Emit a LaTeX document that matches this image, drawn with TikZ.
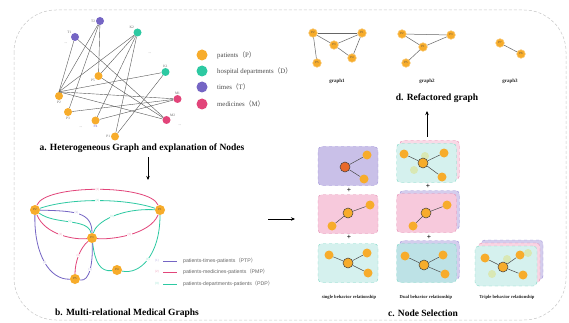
\documentclass[tikz,border=0pt]{standalone}
\usepackage{fontspec}
\setmainfont{Liberation Serif}
\setsansfont{Liberation Sans}
\newfontfamily\cjk{Noto Sans CJK SC}
\usetikzlibrary{positioning, calc, arrows.meta}
\definecolor{patorange}{HTML}{F7AC2B}
\definecolor{deptteal}{HTML}{2DC9A2}
\definecolor{timepurple}{HTML}{7565C4}
\definecolor{medpink}{HTML}{E2457A}
\definecolor{selred}{HTML}{E8692A}
\definecolor{lavfill}{HTML}{C9C0E8}
\definecolor{lavdraw}{HTML}{9E90D8}
\definecolor{rosefill}{HTML}{F7C9DC}
\definecolor{rosedraw}{HTML}{E58BB2}
\definecolor{mintfill}{HTML}{D5F1EE}
\definecolor{mintdraw}{HTML}{7FD8C6}
\definecolor{bluefill}{HTML}{BDE2E6}
\definecolor{faintgreen}{HTML}{D9E8B4}
\newcommand{\fwl}{{\cjk （}}
\newcommand{\fwr}{{\cjk ）}}

\begin{document}
\begin{tikzpicture}[
    x=1pt, y=-1pt,
    frame/.style={draw=black!22, dash pattern=on 3pt off 2pt, rounded corners=42pt, line width=0.5pt},
    hnode/.style={circle, inner sep=0pt, minimum size=8pt},
    pat/.style={hnode, fill=patorange},
    dep/.style={hnode, fill=deptteal},
    tim/.style={hnode, fill=timepurple},
    med/.style={hnode, fill=medpink},
    nlbl/.style={font=\fontsize{3.5}{4}\selectfont, text=black!60, inner sep=0.5pt},
    hlink/.style={draw=black!65, line width=0.4pt},
    keydot/.style={circle, inner sep=0pt, minimum size=11pt},
    keytext/.style={anchor=west, font=\fontsize{6.8}{8}\selectfont, text=black!70, inner sep=0pt},
    title/.style={font=\fontsize{9.5}{11}\selectfont\bfseries},
    sub/.style={font=\fontsize{4.6}{5}\selectfont\bfseries, text=black!85},
    flow/.style={-{Stealth[length=4pt, width=3.5pt]}, line width=0.9pt},
    mnode/.style={circle, fill=patorange, inner sep=0pt, minimum size=10pt, font=\fontsize{3}{3}\selectfont, text=black!70},
    rel/.style={line width=0.8pt},
    rlbl/.style={fill=white, inner sep=0.3pt, font=\fontsize{3}{3}\sffamily\selectfont},
    reltext/.style={anchor=west, font=\fontsize{5.2}{6}\sffamily\selectfont, text=black!60, inner sep=0pt},
    box/.style={rectangle, rounded corners=4pt, dashed, line width=0.4pt, minimum width=60pt, minimum height=39pt},
    lavbox/.style={box, fill=lavfill, draw=lavdraw},
    rosebox/.style={box, fill=rosefill, draw=rosedraw},
    mintbox/.style={box, fill=mintfill, draw=mintdraw},
    bluebox/.style={box, fill=bluefill, draw=mintdraw},
    onode/.style={circle, fill=patorange, inner sep=0pt, minimum size=9pt},
    cnode/.style={circle, fill=patorange, draw=black!75, line width=0.5pt, inner sep=0pt, minimum size=10pt},
    fnode/.style={circle, fill=faintgreen, inner sep=0pt, minimum size=8pt},
    clink/.style={draw=black!70, line width=0.5pt},
    plus/.style={font=\fontsize{7.5}{7.5}\selectfont\bfseries, inner sep=0pt},
    gnode/.style={circle, fill=patorange, draw=patorange!70!white, line width=0.6pt, inner sep=0pt, minimum size=8.5pt, font=\fontsize{3}{3}\selectfont, text=black!70},
    glink/.style={draw=black!60, line width=0.5pt}
]
    \fill[white] (0,0) rectangle (569,323);
    \useasboundingbox (0,0) rectangle (569,323);
    \draw[frame] (14,10) rectangle (566,320);

    % a. Heterogeneous graph
    \node[tim, label={[nlbl]above left:T1}] (t1) at (75,37) {};
    \node[tim, label={[nlbl]left:T2}] (t2) at (100,21) {};
    \node[dep, label={[nlbl]above left:K2}] (k2) at (137.5,32.5) {};
    \node[dep, label={[nlbl]above:K1}] (k1) at (165.5,72) {};
    \node[med, label={[nlbl]above:M1}] (m1) at (177.5,99) {};
    \node[med, label={[nlbl]above right:M2}] (m2) at (166.5,120) {};
    \node[pat, label={[nlbl]below left:P5}] (pa5) at (98.5,76) {};
    \node[pat, label={[nlbl]below:P2}] (pa2) at (59,96) {};
    \node[pat, label={[nlbl]below:P3}] (pa3) at (68,112) {};
    \node[pat, label={[nlbl, text=timepurple]below:P4}] (pa4) at (95.5,120.5) {};
    \node[pat, label={[nlbl]left:P1}] (pa1) at (115,136.5) {};
    \node[nlbl] (dots1) at (66,43) {...};
    \node[nlbl] (dots2) at (150,53) {...};
    \node[nlbl] (dots3) at (81,127) {...};
    \node[nlbl] (dots4) at (180,125) {...};

    \foreach \far in {t1,t2,k2,k1,m1,m2}
        \draw[hlink] (pa2.north) -- (\far);
    \draw[hlink] (t1) -- (m2);
    \draw[hlink] (t2) -- (pa5);
    \draw[hlink] (t2) -- (pa3);
    \draw[hlink] (k2) -- (pa5);
    \draw[hlink] (k2) -- (pa4);
    \draw[hlink] (k2) -- (pa1);
    \draw[hlink] (k1) -- (pa1);
    \draw[hlink] (pa5) -- (m2);
    \draw[hlink] (pa3) -- (m1);
    \draw[hlink] (pa4) -- (m1);

    % node types
    \node[keydot, fill=patorange] (keyp) at (202,55) {};
    \node[keytext] (keyptext) at (217,55) {patients\fwl P\fwr};
    \node[keydot, fill=deptteal] (keyd) at (202,71) {};
    \node[keytext] (keydtext) at (217,71) {hospital departments\fwl D\fwr};
    \node[keydot, fill=timepurple] (keyt) at (202,87) {};
    \node[keytext] (keyttext) at (217,87) {times\fwl T\fwr};
    \node[keydot, fill=medpink] (keym) at (202,104) {};
    \node[keytext] (keymtext) at (217,104) {medicines\fwl M\fwr};

    \node[title] (titlea) at (142,148) {a. Heterogeneous Graph and explanation of Nodes};

    % b. Multi-relational graph
    \node[mnode] (pb2) at (35,210) {P2};
    \node[mnode] (pb1) at (160,210) {P1};
    \node[mnode] (pb3) at (92,238) {P3};
    \node[mnode] (pb5) at (75,279) {P5};
    \node[mnode] (pb4) at (117,270) {P4};

    \draw[rel, medpink] (pb2) .. controls (45,184) and (150,184) .. (pb1)
        node[rlbl, pos=0.5, text=medpink!50] {(2)};
    \draw[rel, deptteal] (pb2) .. controls (70,198) and (125,198) .. (pb1)
        node[rlbl, pos=0.5, text=deptteal!50] {(3)};
    \draw[rel, timepurple] (pb2) .. controls (75,211) and (92,212) .. (pb3)
        node[rlbl, pos=0.45, text=timepurple!50] {(1)};
    \draw[rel, deptteal] (pb2) .. controls (55,225) and (88,218) .. (pb3)
        node[rlbl, pos=0.5, text=deptteal!50] {(3)};
    \draw[rel, medpink] (pb2) .. controls (45,235) and (75,240) .. (pb3)
        node[rlbl, pos=0.5, text=medpink!50] {(2)};
    \draw[rel, medpink] (pb3) .. controls (110,240) and (150,235) .. (pb1)
        node[rlbl, pos=0.5, text=medpink!50] {(2)};
    \draw[rel, deptteal] (pb3) .. controls (96,222) and (120,208) .. (pb1)
        node[rlbl, pos=0.5, text=deptteal!50] {(3)};
    \draw[rel, deptteal] (pb3) .. controls (95,262) and (100,272) .. (pb4);
    \draw[rel, deptteal] (pb4) .. controls (140,275) and (160,255) .. (pb1)
        node[rlbl, pos=0.5, text=deptteal!50] {(3)};
    \draw[rel, timepurple] (pb2) .. controls (34,255) and (50,280) .. (pb5)
        node[rlbl, pos=0.5, text=timepurple!50] {(1)};
    \draw[rel, medpink] (pb3) .. controls (80,248) and (75,262) .. (pb5)
        node[rlbl, pos=0.5, text=medpink!50] {(2)};
    \draw[rel, timepurple] (pb3) .. controls (93,262) and (90,282) .. (pb5)
        node[rlbl, pos=0.5, text=timepurple!50] {(1)};

    % relation types
    \node[rlbl, text=timepurple!50] (relone) at (157,261) {(1)};
    \draw[rel, timepurple] (163,261) -- (177,261);
    \node[reltext] (relonetext) at (183,261) {patients-times-patients\fwl PTP\fwr};
    \node[rlbl, text=medpink!50] (reltwo) at (157,272) {(2)};
    \draw[rel, medpink] (163,272) -- (177,272);
    \node[reltext] (reltwotext) at (183,272) {patients-medicines-patients\fwl PMP\fwr};
    \node[rlbl, text=deptteal!50] (relthree) at (157,284) {(3)};
    \draw[rel, deptteal] (163,284) -- (177,284);
    \node[reltext] (relthreetext) at (183,284) {patients-departments-patients\fwl PDP\fwr};

    \node[title] (titleb) at (127,313) {b. Multi-relational Medical Graphs};

    % c. Node selection - single
    \node[lavbox] (c1a) at (348,166) {};
    \node[cnode, fill=selred] (c1ac) at (345,167) {};
    \node[onode] (c1a1) at (367,155) {};
    \node[onode] (c1a2) at (364,179) {};
    \draw[clink] (c1ac) -- (c1a1);
    \draw[clink] (c1ac) -- (c1a2);

    \node[plus] (plus1) at (349,190) {+};

    \node[rosebox] (c1b) at (348,214) {};
    \node[cnode] (c1bc) at (348,213) {};
    \node[onode] (c1b1) at (370,205) {};
    \node[onode] (c1b2) at (332,226) {};
    \draw[clink] (c1bc) -- (c1b1);
    \draw[clink] (c1bc) -- (c1b2);

    \node[plus] (plus2) at (349,237) {+};

    \node[mintbox] (c1c) at (348,263) {};
    \node[cnode] (c1cc) at (348,263) {};
    \node[onode] (c1c1) at (329,255) {};
    \node[onode] (c1c2) at (367,253) {};
    \node[onode] (c1c3) at (368,273) {};
    \draw[clink] (c1cc) -- (c1c1);
    \draw[clink] (c1cc) -- (c1c2);
    \draw[clink] (c1cc) -- (c1c3);

    % dual
    \node[rosebox, fill=rosefill!70] (c2ashadow) at (429.5,160) {};
    \node[mintbox] (c2a) at (426.5,163) {};
    \node[fnode] (c2af1) at (425,156) {};
    \node[fnode] (c2af2) at (414,170) {};
    \node[cnode] (c2ac) at (423,163) {};
    \node[onode] (c2a1) at (404,154) {};
    \node[onode] (c2a2) at (444,153) {};
    \node[onode] (c2a3) at (442,177) {};
    \draw[clink] (c2ac) -- (c2a1);
    \draw[clink] (c2ac) -- (c2a2);
    \draw[clink] (c2ac) -- (c2a3);

    \node[plus] (plus3) at (428,186) {+};

    \node[lavbox, fill=lavfill!80] (c2bshadow) at (429.5,210) {};
    \node[rosebox] (c2b) at (426.5,213) {};
    \node[cnode] (c2bc) at (426,213) {};
    \node[onode] (c2b1) at (447,205) {};
    \node[onode] (c2b2) at (413,226) {};
    \draw[clink] (c2bc) -- (c2b1);
    \draw[clink] (c2bc) -- (c2b2);

    \node[plus] (plus4) at (429,237) {+};

    \node[lavbox, fill=lavfill!80] (c2cshadow) at (429.5,260) {};
    \node[bluebox] (c2c) at (426.5,263) {};
    \node[cnode] (c2cc) at (424,265) {};
    \node[onode] (c2c1) at (405,256) {};
    \node[onode] (c2c2) at (443,255) {};
    \node[onode] (c2c3) at (445,274) {};
    \draw[clink] (c2cc) -- (c2c1);
    \draw[clink] (c2cc) -- (c2c2);
    \draw[clink] (c2cc) -- (c2c3);

    % triple
    \node[lavbox, fill=lavfill!80, minimum width=62pt, minimum height=40pt] (c3back) at (512,260) {};
    \node[rosebox, fill=rosefill!80, minimum width=62pt, minimum height=40pt] (c3mid) at (509,263) {};
    \node[mintbox, minimum width=62pt, minimum height=40pt] (c3) at (506,266) {};
    \node[fnode] (c3f1) at (528,253) {};
    \node[fnode] (c3f2) at (492,274) {};
    \node[fnode] (c3f3) at (507,259) {};
    \node[cnode] (c3c) at (503,267) {};
    \node[onode] (c31) at (485,258) {};
    \node[onode] (c32) at (520,255) {};
    \node[onode] (c33) at (523,275) {};
    \draw[clink] (c3c) -- (c31);
    \draw[clink] (c3c) -- (c32);
    \draw[clink] (c3c) -- (c33);

    \node[sub] (subone) at (349,297) {single behavior relationship};
    \node[sub] (subtwo) at (426,297) {Dual behavior relationship};
    \node[sub] (subthree) at (507,297) {Triple behavior relationship};

    \node[title] (titlec) at (423,313) {c. Node Selection};

    % d. Refactored graph
    \node[gnode] (g1p2) at (313,33) {P2};
    \node[gnode] (g1p1) at (362,33) {P1};
    \node[gnode] (g1p3) at (334,45) {P3};
    \node[gnode] (g1p4) at (352,58) {P4};
    \node[gnode] (g1p5) at (317,63) {P5};
    \draw[glink] (g1p2) -- (g1p1);
    \draw[glink] (g1p2) -- (g1p3);
    \draw[glink] (g1p3) -- (g1p1);
    \draw[glink] (g1p3) -- (g1p4);
    \draw[glink] (g1p4) -- (g1p1);
    \draw[glink] (g1p2) -- (g1p5);

    \node[gnode] (g2p2) at (402,34) {P2};
    \node[gnode] (g2p3) at (451,35) {P3};
    \node[gnode] (g2p1) at (423,47) {P1};
    \node[gnode] (g2p5) at (406,63) {P5};
    \draw[glink] (g2p2) -- (g2p3);
    \draw[glink] (g2p2) -- (g2p1);
    \draw[glink] (g2p1) -- (g2p3);
    \draw[glink] (g2p1) -- (g2p5);

    \node[gnode] (g3p7) at (500,43) {P7};
    \node[gnode] (g3p6) at (521,54) {P6};
    \draw[glink] (g3p7) -- (g3p6);

    \node[sub, font=\fontsize{5}{6}\selectfont\bfseries] (gone) at (337,81) {graph1};
    \node[sub, font=\fontsize{5}{6}\selectfont\bfseries] (gtwo) at (427,81) {graph2};
    \node[sub, font=\fontsize{5}{6}\selectfont\bfseries] (gthree) at (510,81) {graph3};

    \node[title] (titled) at (437,98) {d. Refactored graph};

    % Arrows between panels
    \coordinate (abstart) at (148,157);
    \coordinate (abend) at (148,180);
    \draw[flow] (abstart) -- (abend);
    \coordinate (bcstart) at (268,219);
    \coordinate (bcend) at (295,219);
    \draw[flow] (bcstart) -- (bcend);
    \coordinate (cdstart) at (427,137);
    \coordinate (cdend) at (427,111);
    \draw[flow] (cdstart) -- (cdend);

\end{tikzpicture}
\end{document}
